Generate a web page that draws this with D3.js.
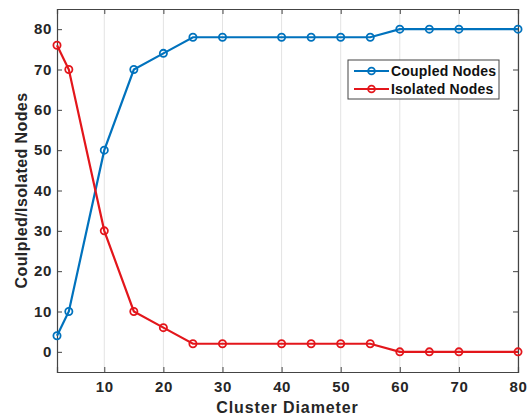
<!DOCTYPE html>
<html><head><meta charset="utf-8">
<script src="https://cdn.jsdelivr.net/npm/d3@7"></script>
<style>body{margin:0;background:#fff}svg{display:block}text{font-family:"Liberation Sans",Arial,sans-serif;font-weight:bold}</style>
</head><body>
<script>
const diameters = [2,4,10,15,20,25,30,40,45,50,55,60,65,70,80];
const coupled  = [4,10,50,70,74,78,78,78,78,78,78,80,80,80,80];
const isolated = [76,70,30,10,6,2,2,2,2,2,2,0,0,0,0];
const xTicks = [10,20,30,40,50,60,70,80];
const yTicks = [0,10,20,30,40,50,60,70,80];
const seriesNames = ["Coupled Nodes","Isolated Nodes"];
const seriesColors = ["#0072BD","#E3161B"];

const W=529,H=418;
const m={l:57,r:11,t:9,b:46};
const svg=d3.select("body").append("svg").attr("width",W).attr("height",H);
const x=d3.scaleLinear().domain([2,80]).range([m.l,W-m.r]);
const y=d3.scaleLinear().domain([-5,85]).range([H-m.b,m.t]);
const axisCol="#444";

// grid
svg.append("g").selectAll("line").data(xTicks).join("line")
  .attr("x1",d=>x(d)).attr("x2",d=>x(d)).attr("y1",y(85)).attr("y2",y(-5))
  .attr("stroke","#e3e3e3").attr("stroke-width",1);

// axes
const gx=svg.append("g").attr("transform",`translate(0,${y(-5)})`)
  .call(d3.axisBottom(x).tickValues(xTicks).tickSize(-5).tickPadding(9).tickFormat(d3.format("d")));
const gy=svg.append("g").attr("transform",`translate(${x(2)},0)`)
  .call(d3.axisLeft(y).tickValues(yTicks).tickSize(-5).tickPadding(5).tickFormat(d3.format("d")));
const gt=svg.append("g").attr("transform",`translate(0,${y(85)})`)
  .call(d3.axisTop(x).tickValues(xTicks).tickSize(-5).tickFormat(""));
const gr=svg.append("g").attr("transform",`translate(${x(80)},0)`)
  .call(d3.axisRight(y).tickValues(yTicks).tickSize(-5).tickFormat(""));
[gx,gy,gt,gr].forEach(g=>{
  g.select(".domain").attr("stroke",axisCol).attr("stroke-width",1.2);
  g.selectAll(".tick line").attr("stroke",axisCol);
  g.selectAll(".tick text").attr("fill","#262626").style("font-size","15px").style("font-weight","bold").style("letter-spacing","0.6px");
});
gx.selectAll(".tick text").attr("dy","0.71em");

// lines
const series=[coupled,isolated];
const line=d3.line().x((d,i)=>x(diameters[i])).y(d=>y(d));
series.forEach((s,k)=>{
  svg.append("path").datum(s).attr("d",line).attr("fill","none")
    .attr("stroke",seriesColors[k]).attr("stroke-width",2.2);
  svg.append("g").selectAll("circle").data(s).join("circle")
    .attr("cx",(d,i)=>x(diameters[i])).attr("cy",d=>y(d)).attr("r",3.6)
    .attr("fill","none").attr("stroke",seriesColors[k]).attr("stroke-width",1.8);
});

// legend
const lg=svg.append("g").attr("transform","translate(348,60)");
lg.append("rect").attr("width",151).attr("height",39).attr("fill","#fff").attr("stroke","#444").attr("stroke-width",1);
seriesNames.forEach((n,k)=>{
  const yy=11+k*18;
  lg.append("line").attr("x1",6).attr("x2",41).attr("y1",yy).attr("y2",yy).attr("stroke",seriesColors[k]).attr("stroke-width",2.2);
  lg.append("circle").attr("cx",23.5).attr("cy",yy).attr("r",3.4).attr("fill","none").attr("stroke",seriesColors[k]).attr("stroke-width",1.8);
  lg.append("text").attr("x",43).attr("y",yy).attr("dy","0.35em").style("font-size","14px").style("letter-spacing","0.2px").attr("fill","#111").text(n);
});

// titles
svg.append("text").attr("x",(x(2)+x(80))/2).attr("y",413).attr("text-anchor","middle")
  .style("font-size","16px").style("letter-spacing","0.9px").attr("fill","#262626").text("Cluster Diameter");
svg.append("text").attr("transform",`translate(27,${(y(-5)+y(85))/2}) rotate(-90)`).attr("text-anchor","middle")
  .style("font-size","16px").style("letter-spacing","0.4px").attr("fill","#262626").text("Coulpled/Isolated Nodes");
</script>
</body></html>
